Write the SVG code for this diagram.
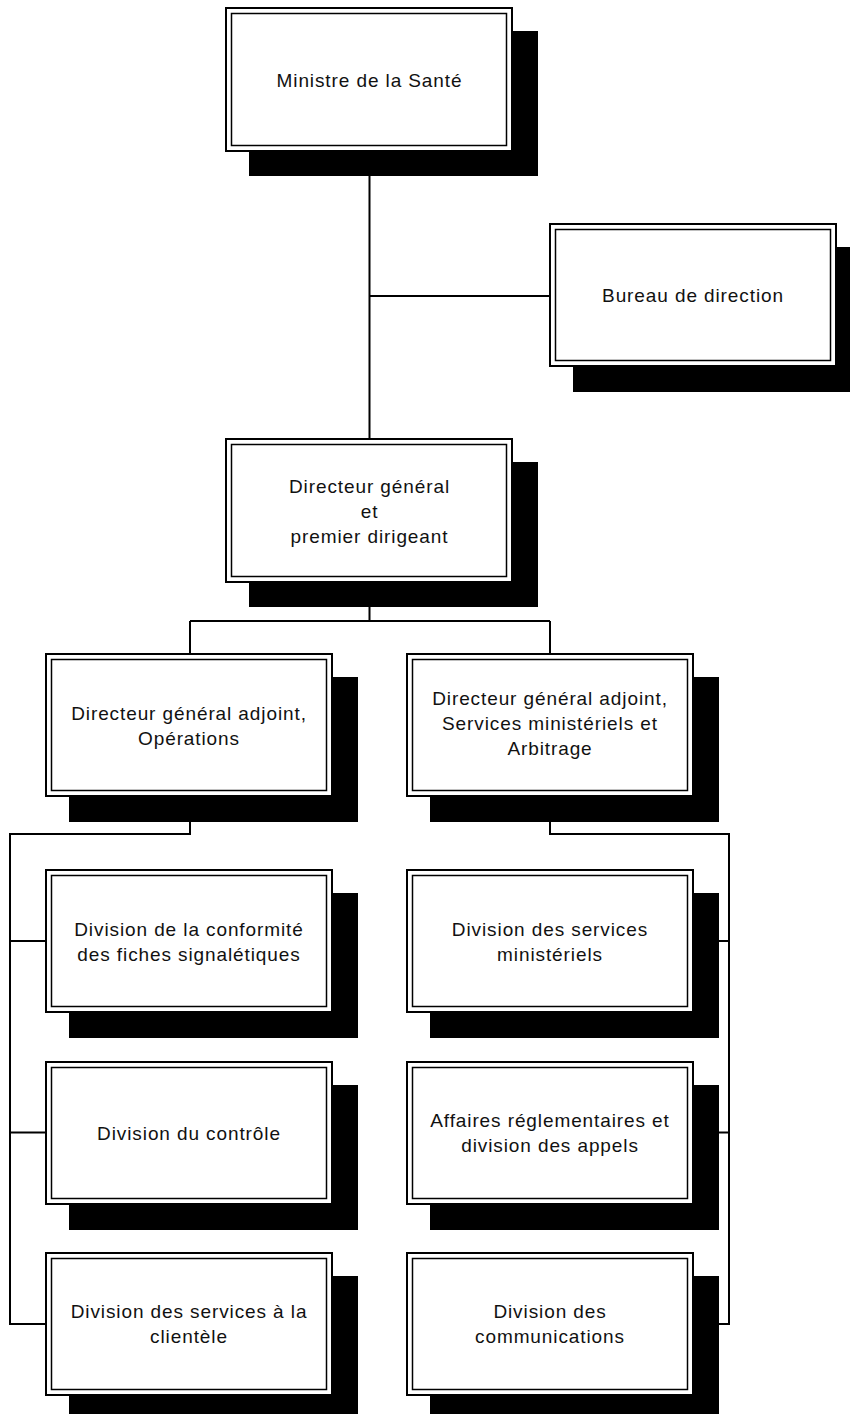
<svg xmlns="http://www.w3.org/2000/svg" width="850" height="1414" viewBox="0 0 850 1414">
<style>
.sh{fill:#000;stroke:none}
.o{fill:#fff;stroke:#000;stroke-width:2}
.i{fill:none;stroke:#000;stroke-width:1.5}
.t{font-family:"Liberation Sans",Arial,sans-serif;font-size:19px;letter-spacing:0.9px;fill:#111;text-anchor:middle}
.c{fill:none;stroke:#000;stroke-width:2}
</style>
<rect width="850" height="1414" fill="#fff"/>
<g id="connectors">
<path class="c" d="M369.5,152V438M369.5,296H549M369.5,583V621M190,621H550M190,621V653M550,621V653"/>
<path class="c" d="M190,797V834H10V1324H45M10,941H45M10,1132.5H45"/>
<path class="c" d="M550,797V834H729V1324H693M729,941H693M729,1132.5H693"/>
</g>
<g id="ministre">
<rect class="sh" x="249" y="31" width="289" height="145"/>
<rect class="o" x="226" y="8" width="286" height="143"/>
<rect class="i" x="231.5" y="13.5" width="275" height="132"/>
<text class="t" x="369.5" y="87">Ministre de la Santé</text>
</g>
<g id="bureau">
<rect class="sh" x="573" y="247" width="289" height="145"/>
<rect class="o" x="550" y="224" width="286" height="142"/>
<rect class="i" x="555.5" y="229.5" width="275" height="131"/>
<text class="t" x="693" y="302">Bureau de direction</text>
</g>
<g id="dg">
<rect class="sh" x="249" y="462" width="289" height="145"/>
<rect class="o" x="226" y="439" width="286" height="143"/>
<rect class="i" x="231.5" y="444.5" width="275" height="132"/>
<text class="t" x="369.5" y="493">Directeur général</text>
<text class="t" x="369.5" y="518">et</text>
<text class="t" x="369.5" y="543">premier dirigeant</text>
</g>
<g id="dga-operations">
<rect class="sh" x="69" y="677" width="289" height="145"/>
<rect class="o" x="46" y="654" width="286" height="142"/>
<rect class="i" x="51.5" y="659.5" width="275" height="131"/>
<text class="t" x="189" y="720">Directeur général adjoint,</text>
<text class="t" x="189" y="745">Opérations</text>
</g>
<g id="dga-services">
<rect class="sh" x="430" y="677" width="289" height="145"/>
<rect class="o" x="407" y="654" width="286" height="142"/>
<rect class="i" x="412.5" y="659.5" width="275" height="131"/>
<text class="t" x="550" y="705">Directeur général adjoint,</text>
<text class="t" x="550" y="730">Services ministériels et</text>
<text class="t" x="550" y="755">Arbitrage</text>
</g>
<g id="div-conformite">
<rect class="sh" x="69" y="893" width="289" height="145"/>
<rect class="o" x="46" y="870" width="286" height="142"/>
<rect class="i" x="51.5" y="875.5" width="275" height="131"/>
<text class="t" x="189" y="936">Division de la conformité</text>
<text class="t" x="189" y="961">des fiches signalétiques</text>
</g>
<g id="div-controle">
<rect class="sh" x="69" y="1085" width="289" height="145"/>
<rect class="o" x="46" y="1062" width="286" height="142"/>
<rect class="i" x="51.5" y="1067.5" width="275" height="131"/>
<text class="t" x="189" y="1140">Division du contrôle</text>
</g>
<g id="div-clientele">
<rect class="sh" x="69" y="1276" width="289" height="145"/>
<rect class="o" x="46" y="1253" width="286" height="142"/>
<rect class="i" x="51.5" y="1258.5" width="275" height="131"/>
<text class="t" x="189" y="1318">Division des services à la</text>
<text class="t" x="189" y="1343">clientèle</text>
</g>
<g id="div-services-ministeriels">
<rect class="sh" x="430" y="893" width="289" height="145"/>
<rect class="o" x="407" y="870" width="286" height="142"/>
<rect class="i" x="412.5" y="875.5" width="275" height="131"/>
<text class="t" x="550" y="936">Division des services</text>
<text class="t" x="550" y="961">ministériels</text>
</g>
<g id="div-appels">
<rect class="sh" x="430" y="1085" width="289" height="145"/>
<rect class="o" x="407" y="1062" width="286" height="142"/>
<rect class="i" x="412.5" y="1067.5" width="275" height="131"/>
<text class="t" x="550" y="1127">Affaires réglementaires et</text>
<text class="t" x="550" y="1152">division des appels</text>
</g>
<g id="div-communications">
<rect class="sh" x="430" y="1276" width="289" height="145"/>
<rect class="o" x="407" y="1253" width="286" height="142"/>
<rect class="i" x="412.5" y="1258.5" width="275" height="131"/>
<text class="t" x="550" y="1318">Division des</text>
<text class="t" x="550" y="1343">communications</text>
</g>
</svg>
